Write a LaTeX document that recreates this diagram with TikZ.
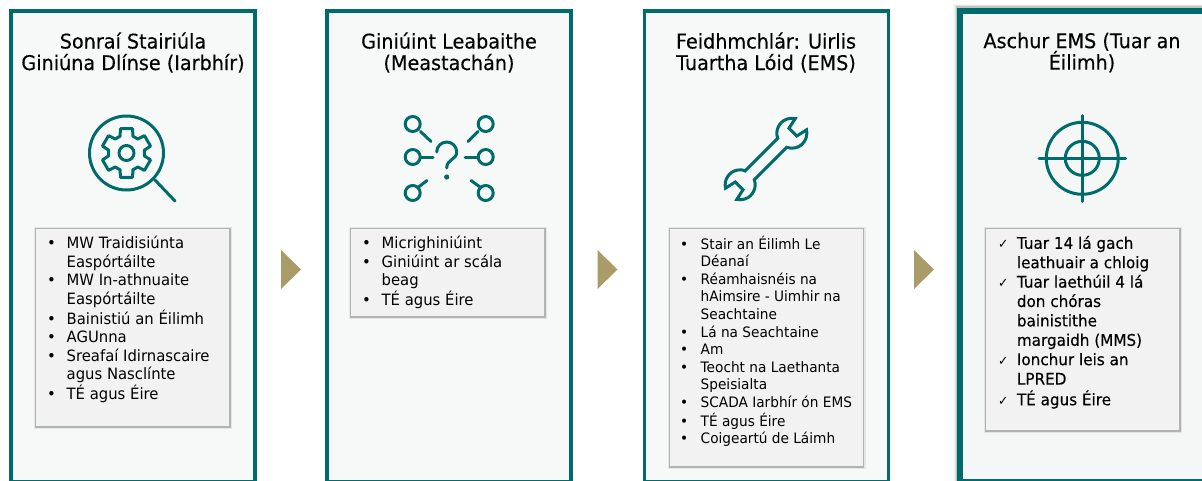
\documentclass[tikz,border=0pt]{standalone}
\usepackage{fontspec}
\setmainfont{DejaVu Sans}[FakeStretch=0.95]
\newfontfamily\heavyfont{DejaVu Sans}[FakeStretch=0.95,FakeBold=0.35]
\usepackage{array}
\usetikzlibrary{positioning}
\definecolor{panelteal}{HTML}{006B6B}
\definecolor{panelfill}{HTML}{F7F9F9}
\definecolor{boxfill}{HTML}{F2F2F2}
\definecolor{flowgold}{HTML}{A99C68}
\newcommand{\bl}{\textbullet}
\newcommand{\ck}{{\rmfamily\fontsize{13}{13}\selectfont ✓}}
\tikzset{
    panelbox/.style={draw=panelteal, line width=3.5pt, fill=panelfill, minimum width=244pt, minimum height=470.5pt, inner sep=0pt, outer sep=0pt},
    listbox/.style={fill=boxfill, minimum width=193pt, inner sep=0pt, outer sep=0pt,
        preaction={draw=black, opacity=.07, line width=5pt, transform canvas={xshift=.5pt,yshift=-.7pt}},
        preaction={draw=black, opacity=.22, line width=2.5pt, transform canvas={xshift=.5pt,yshift=-.7pt}}},
    paneltitle/.style={align=center, inner sep=0pt, font=\heavyfont\fontsize{20.2}{21.5}\selectfont},
    listtext/.style={anchor=north west, inner sep=0pt, align=left},
    icon/.style={draw=panelteal, line width=3pt, line cap=round, line join=round},
    flowmark/.style={fill=flowgold}
}
\begin{document}
\begin{tikzpicture}[x=1pt,y=1pt]
    \useasboundingbox (0,0) rectangle (1202,-480);
    % panels
    \node (panelA) [panelbox, anchor=north] at (133,-11) {};
    \node (panelB) [panelbox, anchor=north] at (449,-11) {};
    \node (panelC) [panelbox, anchor=north] at (766.5,-11) {};
    \draw [black, opacity=.04, line width=14pt] (960,-484) -- (960,-10.5) -- (1210,-10.5);
    \draw [black, opacity=.08, line width=11pt] (960,-484) -- (960,-10.5) -- (1210,-10.5);
    \draw [black, opacity=.14, line width=8.5pt] (960,-484) -- (960,-10.5) -- (1210,-10.5);
    \node (panelD) [panelbox, line width=6pt, fill=panelfill!70!boxfill, anchor=north west, minimum width=270pt, minimum height=471.5pt] at (960,-10.5) {};
    % titles
    \node (titleA) [paneltitle] at (133,-52.5) {Sonraí Stairiúla\\Giniúna Dlínse (Iarbhír)};
    \node (titleB) [paneltitle] at (449,-52.5) {Giniúint Leabaithe\\(Meastachán)};
    \node (titleC) [paneltitle] at (766,-52.5) {Feidhmchlár: Uirlis\\Tuartha Lóid (EMS)};
    \node (titleD) [paneltitle] at (1082,-52.5) {Aschur EMS (Tuar an\\Éilimh)};
    % arrows between panels
    \fill [flowmark] (281,-250) -- (301,-269.5) -- (281,-289) -- cycle;
    \fill [flowmark] (597.5,-250) -- (617.5,-269.5) -- (597.5,-289) -- cycle;
    \fill [flowmark] (914,-250) -- (934,-269.5) -- (914,-289) -- cycle;
    % list boxes
    \node (boxA) [listbox, anchor=north west, minimum height=197pt] at (36,-229) {};
    \node (boxB) [listbox, anchor=north west, minimum height=87pt] at (351,-229) {};
    \node (boxC) [listbox, anchor=north west, minimum height=237pt] at (669.5,-229) {};
    \node (boxD) [listbox, anchor=north west, minimum height=201pt] at (986,-229) {};
    % list texts
    \node (listA) [listtext] at (47,-235.5) {\fontsize{15.6}{18.5}\selectfont
        \begin{tabular}{@{}p{19.5pt}@{}l@{}}
        \bl & MW Traidisiúnta\\ & Easpórtáilte\\
        \bl & MW In-athnuaite\\ & Easpórtáilte\\
        \bl & Bainistiú an Éilimh\\
        \bl & AGUnna\\
        \bl & Sreafaí Idirnascaire\\ & agus Nasclínte\\
        \bl & TÉ agus Éire
        \end{tabular}};
    \node (listB) [listtext] at (362,-235.5) {\fontsize{15.6}{18.5}\selectfont
        \begin{tabular}{@{}p{19.5pt}@{}l@{}}
        \bl & Micrighiniúint\\
        \bl & Giniúint ar scála\\ & beag\\
        \bl & TÉ agus Éire
        \end{tabular}};
    \node (listC) [listtext] at (680,-235.5) {\fontsize{14.4}{17.6}\selectfont
        \begin{tabular}{@{}p{20.5pt}@{}l@{}}
        \bl & Stair an Éilimh Le\\ & Déanaí\\
        \bl & Réamhaisnéis na\\ & hAimsire - Uimhir na\\ & Seachtaine\\
        \bl & Lá na Seachtaine\\
        \bl & Am\\
        \bl & Teocht na Laethanta\\ & Speisialta\\
        \bl & SCADA Iarbhír ón EMS\\
        \bl & TÉ agus Éire\\
        \bl & Coigeartú de Láimh
        \end{tabular}};
    \node (listD) [listtext] at (998,-235) {\heavyfont\fontsize{16}{19.4}\selectfont
        \begin{tabular}{@{}p{18.7pt}@{}l@{}}
        \ck & Tuar 14 lá gach\\ & leathuair a chloig\\
        \ck & Tuar laethúil 4 lá\\ & don chóras\\ & bainistithe\\ & margaidh (MMS)\\
        \ck & Ionchur leis an\\ & LPRED\\
        \ck & TÉ agus Éire
        \end{tabular}};
    % magnifier with gear
    \coordinate (lensA) at (126.5,-153);
    \draw [icon] (lensA) circle (37);
    \draw [icon] (155,-180) -- (175,-201);
    \begin{scope}[shift={(lensA)}]
        \draw [icon] (69:18) \foreach \a in {90,150,210,270,330,390} { -- (\a-21:18) -- (\a-14:25) -- (\a+14:25) -- (\a+21:18)} -- cycle;
        \draw [icon] (0,0) circle (7.5);
    \end{scope}
    % question mark with probes
    \draw [icon] (412.7,-124) circle (7.5);
    \draw [icon] (485.7,-124) circle (7.5);
    \draw [icon] (412.7,-157) circle (7.5);
    \draw [icon] (485.7,-157) circle (7.5);
    \draw [icon] (412.7,-193) circle (7.5);
    \draw [icon] (485.7,-193) circle (7.5);
    \draw [icon] (420.5,-131.5) -- (431,-141.5);
    \draw [icon] (478,-131.5) -- (468,-141.5);
    \draw [icon] (420.5,-157) -- (433,-157);
    \draw [icon] (478,-157) -- (465,-157);
    \draw [icon] (418.5,-187) -- (427,-180.5);
    \draw [icon] (480,-187) -- (471,-180.5);
    \draw [icon] (436.7,-152) arc (180:0:10) .. controls (456.7,-160) and (446.7,-159) .. (446.7,-168);
    \fill [panelteal] (446.7,-177) circle (2.6);
    % spanner
    \begin{scope}[shift={(766,-159)}, rotate=45]
        \draw [icon, line cap=butt, line join=miter] (-22.9,6.3) -- (22.9,6.3) arc (155:32:15) -- (38,5.5) -- (38,-5.5) -- (49.2,-8) arc (-32:-155:15) -- (-22.9,-6.3) arc (-25:-148:15) -- (-38,-5.5) -- (-38,5.5) -- (-49.2,8) arc (148:25:15) -- cycle;
    \end{scope}
    % target
    \coordinate (aimD) at (1082.3,-158.3);
    \draw [icon] (aimD) circle (36);
    \draw [icon] (aimD) circle (17);
    \draw [icon] (1039,-158.3) -- (1125.7,-158.3);
    \draw [icon] (1082.3,-115.5) -- (1082.3,-201.5);
\end{tikzpicture}
\end{document}
